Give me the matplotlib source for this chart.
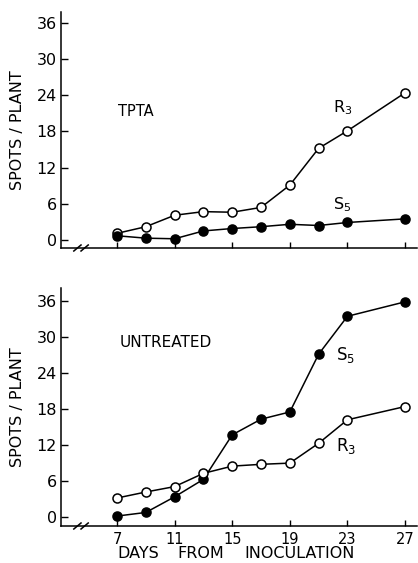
import matplotlib
matplotlib.use("Agg")
import matplotlib.pyplot as plt

days = [7, 9, 11, 13, 15, 17, 19, 21, 23, 27]
tpta_r3 = [1.1, 2.2, 4.1, 4.7, 4.6, 5.4, 9.1, 15.2, 18.1, 24.4]
tpta_s5 = [0.7, 0.3, 0.2, 1.5, 1.9, 2.2, 2.6, 2.4, 2.9, 3.5]
untr_r3 = [3.2, 4.2, 5.1, 7.3, 8.5, 8.8, 9.0, 12.3, 16.2, 18.4]
untr_s5 = [0.2, 0.8, 3.4, 6.3, 13.7, 16.3, 17.5, 27.1, 33.4, 35.8]
yticks = [0, 6, 12, 18, 24, 30, 36]
xticks = [7, 11, 15, 19, 23, 27]

plt.rcParams['font.family'] = ['DejaVu Sans']
W, H = 418, 563
fig = plt.figure(figsize=(W / 100, H / 100), dpi=100)

def fx(px):
    return px / W

def fy(py):
    return 1 - py / H

ax1 = fig.add_axes([fx(61), fy(248), fx(417) - fx(61), fy(12) - fy(248)])
ax2 = fig.add_axes([fx(61), fy(526), fx(417) - fx(61), fy(288) - fy(526)])

def style(ax, ylim, show_x):
    ax.set_xlim(3.11, 27.83)
    ax.set_ylim(*ylim)
    for s in ['top', 'right']:
        ax.spines[s].set_visible(False)
    for s in ['left', 'bottom']:
        ax.spines[s].set_linewidth(1.1)
    ax.set_yticks(yticks)
    ax.set_xticks(xticks)
    ax.tick_params(axis='y', direction='in', length=5, width=1, labelsize=11.5, pad=3)
    ax.tick_params(axis='x', direction='in', length=4, width=1, labelsize=10.5, pad=4)
    if not show_x:
        ax.set_xticklabels([])
    for dx in (-0.25, 0.25):
        ax.plot([4.5 + dx - 0.25, 4.5 + dx + 0.25], [ylim[0] - 0.5, ylim[0] + 0.5],
                color='black', lw=1.1, clip_on=False)
    ax.set_ylabel('SPOTS / PLANT', fontsize=11.5, labelpad=8)

style(ax1, (-1.33, 37.8), False)
style(ax2, (-1.45, 38.1), True)

mk = dict(marker='o', markersize=6.5, color='black', lw=1.1, markeredgewidth=1.1)
ax1.plot(days, tpta_r3, markerfacecolor='white', **mk)
ax1.plot(days, tpta_s5, markerfacecolor='black', **mk)
ax2.plot(days, untr_r3, markerfacecolor='white', zorder=3, **mk)
ax2.plot(days, untr_s5, markerfacecolor='black', zorder=2, **mk)

ax1.text(7.05, 21.3, 'TPTA', fontsize=10.5, va='center', ha='left')
ax1.text(22.0, 22.0, 'R$_3$', fontsize=11.5, va='center', ha='left')
ax1.text(22.0, 5.9, 'S$_5$', fontsize=11.5, va='center', ha='left')
ax2.text(7.2, 29.0, 'UNTREATED', fontsize=11, va='center', ha='left')
ax2.text(22.2, 27.0, 'S$_5$', fontsize=12, va='center', ha='left')
ax2.text(22.2, 11.9, 'R$_3$', fontsize=12, va='center', ha='left')

fig.text(fx(117), fy(553), 'DAYS', fontsize=11.5, ha='left', va='center')
fig.text(fx(177), fy(553), 'FROM', fontsize=11.5, ha='left', va='center')
fig.text(fx(244), fy(553), 'INOCULATION', fontsize=11.5, ha='left', va='center')

fig.savefig('out.png', dpi=100)
